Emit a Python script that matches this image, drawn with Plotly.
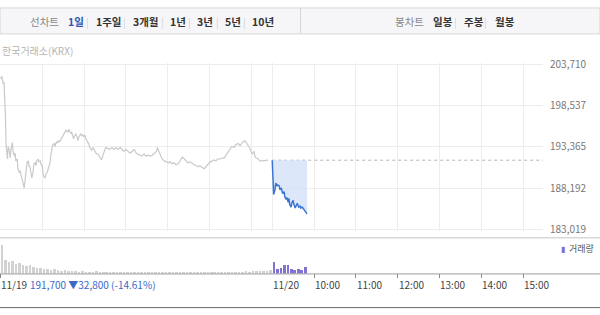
import plotly.graph_objects as go

# ---------------- data ----------------
# minutes since 11/19 09:00 (continuous trading-time index; 11/20 09:00 = 390)
day1_min = [0, 2, 4, 5, 7, 8, 10, 11, 13, 14, 15, 17, 18, 20, 21, 22, 24, 25, 27, 28, 30, 31, 32, 34, 35,
            37, 38, 40, 41, 42, 44, 45, 47, 48, 50, 51, 52, 54, 55, 57, 58, 60, 61, 62, 64, 65, 67, 68, 70,
            71, 72, 74, 75, 77, 78, 80, 81, 82, 84, 85, 87, 88, 90, 91, 92, 94, 95, 97, 98, 100, 101, 102,
            104, 105, 107, 108, 110, 111, 112, 114, 115, 117, 118, 120, 121, 122, 124, 125, 127, 128, 130,
            131, 133, 134, 135, 137, 140, 143, 145, 148, 151, 154, 157, 160, 163, 166, 169, 172, 175, 177,
            180, 183, 186, 189, 192, 195, 198, 200, 203, 206, 209, 212, 215, 218, 221, 224, 225, 226, 229,
            232, 235, 238, 241, 243, 246, 249, 252, 255, 258, 261, 264, 266, 269, 272, 275, 278, 281, 284,
            286, 289, 292, 295, 298, 301, 304, 306, 309, 312, 315, 318, 321, 324, 327, 330, 332, 335, 338,
            341, 344, 347, 350, 352, 355, 358, 361, 364, 365, 367, 370, 372, 375, 380, 384, 390]
day1_price = [201900, 202250, 201290, 201530, 197660, 193670, 191850, 193420, 192820, 191970, 193060,
              193910, 192820, 192220, 192580, 191610, 191850, 190640, 190160, 190400, 189670, 189190,
              188830, 188220, 188950, 190160, 191370, 191610, 190880, 191000, 190040, 189430, 190400,
              191250, 191370, 191000, 191610, 191850, 191490, 191610, 191250, 190880, 190160, 189670,
              189430, 189910, 190160, 190400, 190880, 191370, 192220, 193060, 193670, 193790, 193420,
              193910, 194030, 193910, 194150, 194030, 194390, 194510, 194880, 195000, 195240, 195480,
              195360, 195240, 195600, 195360, 195120, 195240, 194760, 194390, 194880, 195000, 194640,
              194150, 194510, 194880, 195000, 194760, 194880, 194640, 194880, 194510, 194270, 194030,
              193670, 193300, 193060, 192940, 193300, 193060, 192820, 192580, 192460, 191970, 191730,
              192580, 193300, 193180, 193060, 193300, 193060, 193300, 193060, 193300, 193060, 192820,
              193060, 192820, 192580, 192820, 193060, 192580, 192460, 192330, 192220, 192460, 192220,
              192330, 192220, 192330, 192580, 192820, 193300, 193060, 192580, 191850, 191610, 191490,
              191370, 191490, 191250, 191370, 191130, 191250, 191730, 192090, 191850, 191610, 191370,
              191490, 191250, 191130, 191000, 190880, 191000, 190760, 190640, 190880, 191250, 191490,
              191610, 191730, 191610, 191850, 191850, 191970, 191970, 192330, 192820, 193180, 193420,
              193300, 193670, 193790, 193550, 193910, 194150, 194030, 193670, 193180, 192460, 192820,
              192220, 191970, 191850, 191610, 191610, 191610, 191700]

day2_min = [390, 391, 392, 394, 395, 397, 398, 400, 401, 403, 404, 405, 407, 408, 410, 411, 413, 414,
            415, 417, 418, 420, 421, 423, 424, 426, 427, 428, 430, 431, 433, 434, 436, 437, 439, 440]
day2_price = [191700, 189790, 187380, 187990, 188830, 188470, 188590, 188470, 187990, 188220, 187740,
              187500, 187740, 187130, 186770, 187010, 186410, 186890, 186160, 185800, 186280, 186650,
              186160, 185680, 185920, 186280, 186040, 185800, 185920, 185680, 185800, 185680, 185560,
              185310, 185070, 184950]

prev_close = 191700

# volume, 5-minute buckets (bucket start minute)
vol1_min = [0, 5, 10, 15, 20, 25, 30, 35, 40, 45, 50, 55, 60, 65, 70, 75, 80, 85, 90, 95, 100, 105, 110,
            115, 120, 125, 130, 135, 140, 145, 150, 155, 160, 165, 170, 175, 180, 185, 190, 195, 200, 205,
            210, 215, 220, 225, 230, 235, 240, 245, 250, 255, 260, 265, 270, 275, 280, 285, 290, 295, 300,
            305, 310, 315, 320, 325, 330, 335, 340, 345, 350, 355, 360, 365, 370, 375, 380, 385]
vol1 = [300, 140, 120, 130, 100, 110, 90, 80, 85, 70, 60, 55, 50, 45, 40, 45, 35, 30, 35, 28, 25, 30, 22,
        25, 20, 22, 18, 24, 20, 18, 22, 17, 20, 16, 19, 15, 18, 20, 16, 15, 18, 14, 17, 15, 19, 16, 14,
        18, 15, 17, 14, 16, 15, 18, 14, 16, 20, 15, 17, 14, 18, 16, 15, 19, 17, 16, 20, 22, 18, 21, 25,
        20, 23, 28, 24, 30, 26, 35]
vol2_min = [390, 395, 400, 405, 410, 415, 420, 425, 430, 435]
vol2 = [120, 50, 60, 90, 85, 45, 40, 45, 35, 70]

tick_pos = [0, 390, 450, 510, 570, 630, 690, 750]
tick_txt = ["11/19", "11/20", "10:00", "11:00", "12:00", "13:00", "14:00", "15:00"]
price_ticks = [183019, 188192, 193365, 198537, 203710]
price_tick_txt = ["183,019", "188,192", "193,365", "198,537", "203,710"]
summary = "191,700 ▼32,800 (-14.61%)"
period_tabs = ["1일", "1주일", "3개월", "1년", "3년", "5년", "10년"]
candle_tabs = ["일봉", "주봉", "월봉"]

# ---------------- figure ----------------
W, H = 600, 315
FONT = "Noto Sans CJK KR, Noto Sans, sans-serif"


def py(p):
    return 1 - p / H


def px(p):
    return p / W


XR = [-0.7, 778.6]
XDOM = [0, 543 / W]

fig = go.Figure()

# day 1 line
fig.add_trace(go.Scatter(x=day1_min, y=day1_price, mode="lines",
                         line=dict(color="#c9c9c9", width=1.2), hoverinfo="skip",
                         xaxis="x", yaxis="y"))
# previous close reference line (dotted)
fig.add_trace(go.Scatter(x=[390, XR[1]], y=[prev_close, prev_close], mode="lines",
                         line=dict(color="#b4b4b4", width=1, dash="dot"), hoverinfo="skip",
                         xaxis="x", yaxis="y"))
# base for fill
fig.add_trace(go.Scatter(x=[day2_min[0], day2_min[-1]], y=[prev_close, prev_close], mode="lines",
                         line=dict(width=0), hoverinfo="skip", xaxis="x", yaxis="y"))
# day 2 line with fill to previous close
fig.add_trace(go.Scatter(x=day2_min, y=day2_price, mode="lines", fill="tonexty",
                         fillcolor="rgba(208,224,248,0.75)",
                         line=dict(color="#3b74d5", width=1.5), hoverinfo="skip",
                         xaxis="x", yaxis="y"))

# volume
fig.add_trace(go.Bar(x=[m + 2.5 for m in vol1_min], y=vol1, width=3.6,
                     marker=dict(color="#d2d2d2", line=dict(width=0)),
                     xaxis="x2", yaxis="y2", hoverinfo="skip"))
fig.add_trace(go.Bar(x=[m + 2.5 for m in vol2_min], y=vol2, width=4.0,
                     marker=dict(color="#8073d4", line=dict(width=0)),
                     xaxis="x2", yaxis="y2", hoverinfo="skip"))

grid_x = [60, 120, 180, 240, 300, 360, 390, 450, 510, 570, 630, 690, 750]
yr_pad = 2 * 121
fig.update_layout(
    width=W, height=H, margin=dict(l=0, r=0, t=0, b=0),
    paper_bgcolor="white", plot_bgcolor="rgba(0,0,0,0)",
    showlegend=False, bargap=0,
    font=dict(family=FONT, size=11, color="#333"),
    xaxis=dict(domain=XDOM, range=XR, tickvals=grid_x, showticklabels=False,
               showgrid=True, gridcolor="#ededed", gridwidth=1, zeroline=False,
               showline=False, ticks="", anchor="y", fixedrange=True),
    yaxis=dict(domain=[py(233), py(58)], range=[price_ticks[0] - yr_pad, price_ticks[-1] + yr_pad],
               tickvals=price_ticks, ticktext=price_tick_txt, side="right",
               showgrid=True, gridcolor="#ededed", gridwidth=1, zeroline=False,
               showline=False, ticks="", ticklabelstandoff=6,
               tickfont=dict(size=10, color="#777", family=FONT), anchor="x"),
    xaxis2=dict(domain=XDOM, range=XR, tickvals=[0, 450, 510, 570, 630, 690, 750],
                showticklabels=False, ticks="outside", ticklen=4, tickcolor="#888",
                showgrid=False, zeroline=False, showline=False, anchor="y2"),
    yaxis2=dict(domain=[py(277), py(241)], range=[0, 360], showgrid=False,
                showticklabels=False, zeroline=False, showline=False, anchor="x2"),
)

shapes = []
# toolbar
shapes.append(dict(type="rect", xref="paper", yref="paper", x0=0, x1=1, y0=py(28), y1=py(1),
                   fillcolor="#f6f6f8", line=dict(color="#d6d6d6", width=1), layer="below"))
shapes.append(dict(type="line", xref="paper", yref="paper", x0=px(300.5), x1=px(300.5),
                   y0=py(28), y1=py(1), line=dict(color="#d6d6d6", width=1)))
# panel separators
shapes.append(dict(type="line", xref="paper", yref="paper", x0=0, x1=1, y0=py(240), y1=py(240),
                   line=dict(color="#c4c4c4", width=1)))
shapes.append(dict(type="line", xref="paper", yref="paper", x0=0, x1=1, y0=py(277.5), y1=py(277.5),
                   line=dict(color="#9a9a9a", width=1)))
shapes.append(dict(type="line", xref="paper", yref="paper", x0=0, x1=1, y0=py(312.5), y1=py(312.5),
                   line=dict(color="#666", width=1)))
fig.update_layout(shapes=shapes)

ann = []
# toolbar labels
ann.append(dict(text="선차트", x=px(28), y=py(15), xref="paper", yref="paper", xanchor="left",
                yanchor="middle", showarrow=False, font=dict(size=10.5, color="#888", family=FONT)))
tab_x = [66, 94, 131, 168, 195, 223, 250]
for i, (t, xp) in enumerate(zip(period_tabs, tab_x)):
    col = "#2f55b8" if i == 0 else "#333"
    ann.append(dict(text="<b>" + t + "</b>", x=px(xp), y=py(15), xref="paper", yref="paper",
                    xanchor="left", yanchor="middle", showarrow=False,
                    font=dict(size=10.5, color=col, family=FONT)))
for sx in [87, 124, 162, 189, 217, 244]:
    ann.append(dict(text="|", x=px(sx), y=py(15), xref="paper", yref="paper", xanchor="center",
                    yanchor="middle", showarrow=False, font=dict(size=10, color="#d0d0d0")))
ann.append(dict(text="봉차트", x=px(393), y=py(15), xref="paper", yref="paper", xanchor="left",
                yanchor="middle", showarrow=False, font=dict(size=10.5, color="#888", family=FONT)))
for t, xp in zip(candle_tabs, [431, 462, 493]):
    ann.append(dict(text="<b>" + t + "</b>", x=px(xp), y=py(15), xref="paper", yref="paper",
                    xanchor="left", yanchor="middle", showarrow=False,
                    font=dict(size=10.5, color="#333", family=FONT)))
for sx in [455, 485]:
    ann.append(dict(text="|", x=px(sx), y=py(15), xref="paper", yref="paper", xanchor="center",
                    yanchor="middle", showarrow=False, font=dict(size=10, color="#d0d0d0")))

# source label
ann.append(dict(text="한국거래소(KRX)", x=0, y=py(45), xref="paper", yref="paper", xanchor="left",
                yanchor="middle", showarrow=False, font=dict(size=10, color="#b5b5b5", family=FONT)))
# x labels (left aligned at tick)
for pos, t in zip(tick_pos, tick_txt):
    ann.append(dict(text=t, x=pos, y=py(288), xref="x2", yref="paper", xanchor="left",
                    yanchor="middle", showarrow=False, xshift=-1,
                    font=dict(size=10, color="#444", family=FONT)))
ann.append(dict(text=summary, x=px(28), y=py(288), xref="paper", yref="paper", xanchor="left",
                yanchor="middle", showarrow=False, font=dict(size=10, color="#3a68c4", family=FONT)))
# volume legend
ann.append(dict(text="▮", x=px(563), y=py(251), xref="paper", yref="paper", xanchor="center",
                yanchor="middle", showarrow=False, font=dict(size=8, color="#7c6fd2")))
ann.append(dict(text="거래량", x=px(567), y=py(251), xref="paper", yref="paper", xanchor="left",
                yanchor="middle", showarrow=False, font=dict(size=9, color="#555", family=FONT)))
fig.update_layout(annotations=ann)

fig.write_html("out.html")
